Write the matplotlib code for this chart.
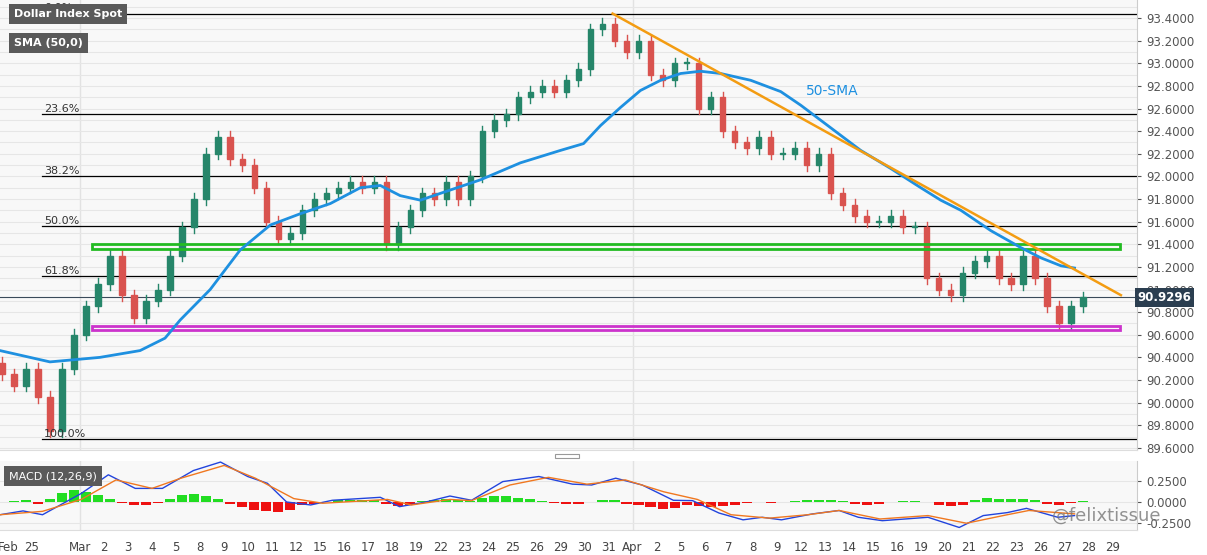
import matplotlib
matplotlib.use("Agg")
import matplotlib.pyplot as plt
import numpy as np
from matplotlib.patches import Rectangle

# half-day candles, starting at day index -0.25
closes = [90.25, 90.15, 90.3, 90.05, 89.75, 90.3, 90.6, 90.85, 91.05, 91.3,
          90.95, 90.75, 90.9, 91.0, 91.3, 91.55, 91.8, 92.2, 92.35, 92.15,
          92.1, 91.9, 91.6, 91.45, 91.5, 91.7, 91.8, 91.85, 91.9, 91.95,
          91.9, 91.95, 91.4, 91.55, 91.7, 91.85, 91.8, 91.95, 91.8, 92.0,
          92.4, 92.5, 92.55, 92.7, 92.75, 92.8, 92.75, 92.85, 92.95, 93.3,
          93.35, 93.2, 93.1, 93.2, 92.9, 92.85, 93.0, 93.0, 92.6, 92.7,
          92.4, 92.3, 92.25, 92.35, 92.2, 92.2, 92.25, 92.1, 92.2, 91.85,
          91.75, 91.65, 91.6, 91.6, 91.65, 91.55, 91.55, 91.1, 91.0, 90.95,
          91.15, 91.25, 91.3, 91.1, 91.05, 91.3, 91.1, 90.85, 90.7, 90.85, 90.93]
first_open = 90.35
wick = 0.05

sma_x = [-0.33, 1.75, 3.83, 5.5, 6.54, 7.17, 8.42, 9.67, 10.92, 12.17, 13.42, 14.67,
         15.5, 16.33, 17.17, 18.0, 19.67, 21.33, 23.0, 23.96, 24.67, 25.5, 26.33,
         27.17, 28.0, 28.83, 29.67, 30.92, 32.17, 33.0, 34.25, 35.5, 36.75, 38.0,
         38.83, 39.67, 40.92, 42.17, 43.0, 43.83, 44.4]
sma_y = [90.46, 90.36, 90.40, 90.46, 90.57, 90.73, 91.0, 91.35, 91.57, 91.67, 91.76,
         91.90, 91.92, 91.83, 91.79, 91.85, 91.97, 92.12, 92.23, 92.29, 92.45, 92.61,
         92.76, 92.85, 92.91, 92.93, 92.91, 92.85, 92.75, 92.63, 92.43, 92.23, 92.07,
         91.90, 91.79, 91.70, 91.52, 91.37, 91.28, 91.21, 91.19]

macd_x = [-0.33, 0.63, 1.44, 3.05, 4.18, 5.3, 6.43, 7.72, 8.85, 9.98, 10.8, 11.6, 12.6,
          13.5, 15.5, 16.3, 17.4, 18.4, 19.3, 20.6, 22.1, 23.5, 24.3, 25.3, 26.4, 27.7,
          28.5, 29.6, 30.6, 31.4, 32.2, 33.5, 34.6, 35.4, 36.4, 38.3, 39.6, 40.6, 41.6,
          42.4, 43.7, 44.4]
macd_y = [-0.15, -0.105, -0.15, 0.10, 0.32, 0.16, 0.16, 0.37, 0.47, 0.30, 0.22, 0.0,
          -0.035, 0.02, 0.055, -0.055, 0.0, 0.07, 0.02, 0.24, 0.30, 0.21, 0.20, 0.28,
          0.20, 0.02, 0.016, -0.13, -0.21, -0.18, -0.21, -0.14, -0.10, -0.18, -0.22,
          -0.18, -0.30, -0.16, -0.125, -0.075, -0.18, -0.16]
sig_x = [-0.33, 1.44, 3.05, 4.5, 6.0, 7.2, 9.0, 10.3, 11.9, 13.1, 15.8, 16.8, 18.4, 19.3,
         20.9, 22.5, 24.1, 25.7, 27.3, 28.7, 30.1, 31.7, 33.3, 34.6, 36.3, 38.3, 39.9,
         41.6, 42.5, 44.4]
sig_y = [-0.15, -0.11, 0.03, 0.26, 0.16, 0.28, 0.43, 0.28, 0.04, -0.015, 0.03, -0.035,
         0.03, 0.016, 0.20, 0.29, 0.21, 0.26, 0.12, 0.03, -0.15, -0.19, -0.15, -0.10,
         -0.20, -0.16, -0.25, -0.15, -0.10, -0.14]
hist = [0, 0.01, 0.02, -0.02, 0.03, 0.10, 0.14, 0.12, 0.08, 0.04, -0.01, -0.04, -0.03,
        -0.01, 0.04, 0.08, 0.09, 0.07, 0.04, -0.02, -0.06, -0.09, -0.11, -0.12, -0.10,
        -0.04, -0.02, 0.0, 0.02, 0.02, 0.025, 0.02, -0.02, -0.05, -0.03, 0.01, 0.02, 0.03,
        0.02, 0.01, 0.05, 0.07, 0.07, 0.05, 0.03, 0.01, -0.01, -0.02, -0.02, 0.0, 0.02,
        0.02, -0.02, -0.04, -0.06, -0.08, -0.07, -0.04, -0.05, -0.06, -0.05, -0.03, -0.01,
        0.0, -0.01, 0.0, 0.01, 0.02, 0.02, 0.02, 0.01, -0.02, -0.03, -0.025, 0.0, 0.01,
        0.01, 0.0, -0.03, -0.045, -0.03, 0.02, 0.05, 0.04, 0.03, 0.04, 0.02, -0.02, -0.03,
        -0.01, 0.01]

tick_pos = list(range(0, 47))
tick_pos.remove(2)
tick_labels = ["Feb", "25", "Mar", "2", "3", "4", "5", "8", "9", "10", "11", "12", "15",
               "16", "17", "18", "19", "22", "23", "24", "25", "26", "29", "30", "31",
               "Apr", "2", "5", "6", "7", "8", "9", "12", "13", "14", "15", "16", "19",
               "20", "21", "22", "23", "26", "27", "28", "29"]

fib_top, fib_bottom = 93.44, 89.68
fib_ratios = [0.0, 0.236, 0.382, 0.5, 0.618, 1.0]
green_zone = (91.36, 91.40)
magenta_zone = (90.64, 90.68)
trend_x = [25.17, 46.33]
trend_y = [93.44, 90.95]
last_price = 90.9296

BG = "#f8f8f8"
XMIN, XMAX = -0.33, 47.0
fig = plt.figure(figsize=(12.07, 5.55), dpi=100)
ax = fig.add_axes([0, 0.189, 0.942, 0.811])
mx = fig.add_axes([0, 0.045, 0.942, 0.124])

for a in (ax, mx):
    a.set_facecolor(BG)
    a.set_xlim(XMIN, XMAX)
    for s in ("top", "left"):
        a.spines[s].set_visible(False)
    a.spines["right"].set_color("#cccccc")
    a.spines["bottom"].set_color("#dddddd")
    a.yaxis.tick_right()
    a.tick_params(axis="y", labelsize=8.5, colors="#555555", length=3)
    for v in (3, 26):
        a.axvline(v, color="#e2e2e2", lw=1, zorder=0)

ax.set_ylim(89.58, 93.56)
ax.set_yticks(np.arange(89.6, 93.41, 0.2))
ax.set_yticklabels([f"{v:.4f}" for v in np.arange(89.6, 93.41, 0.2)])
for v in np.arange(89.6, 93.5, 0.1):
    ax.axhline(v, color="#e6e6e6", lw=0.8, zorder=0)
ax.set_xticks([])

# candles
opens = [first_open] + closes[:-1]
for k, (o, c) in enumerate(zip(opens, closes)):
    x = -0.25 + 0.5 * k
    col = "#26866a" if c >= o else "#d9534f"
    ax.plot([x, x], [min(o, c) - wick, max(o, c) + wick], color=col, lw=1, zorder=3)
    ax.add_patch(Rectangle((x - 0.11, min(o, c)), 0.22, max(abs(c - o), 0.01),
                           color=col, zorder=3))

# fibonacci
rng = fib_top - fib_bottom
for r in fib_ratios:
    lvl = fib_top - r * rng
    ax.plot([1.4, XMAX], [lvl, lvl], color="black", lw=0.9, zorder=2)
    ax.text(1.5, lvl + 0.02, f"{r * 100:.1f}%", fontsize=8, color="#333333", zorder=4)

for lo, hi, col in ((green_zone[0], green_zone[1], "#22bb22"),
                    (magenta_zone[0], magenta_zone[1], "#cc33cc")):
    ax.add_patch(Rectangle((3.5, lo), 42.8, hi - lo, fill=False, edgecolor=col, lw=2, zorder=4))

ax.axhline(last_price, color="#3a4a5a", lw=0.8, zorder=2)
ax.plot(sma_x, sma_y, color="#1e90e0", lw=2, zorder=5)
ax.plot(trend_x, trend_y, color="#f39c12", lw=1.8, zorder=5)
ax.text(33.2, 92.72, "50-SMA", color="#1e90e0", fontsize=10, zorder=6)

ax.text(1.0005, last_price, f"{last_price:.4f}", transform=ax.get_yaxis_transform(),
        fontsize=8.5, color="white", fontweight="bold", va="center", ha="left",
        bbox=dict(boxstyle="square,pad=0.25", fc="#2b3e50", ec="none"), zorder=10)

for y, label in ((0.97, "Dollar Index Spot"), (0.905, "SMA (50,0)")):
    ax.text(0.012, y, label, transform=ax.transAxes, fontsize=8, color="white",
            fontweight="bold", va="center",
            bbox=dict(boxstyle="square,pad=0.45", fc="#5a5a5a", ec="none"), zorder=10)

# MACD panel
mx.set_ylim(-0.33, 0.48)
mx.set_yticks([-0.25, 0, 0.25])
mx.set_yticklabels(["-0.2500", "0.0000", "0.2500"])
for v in (-0.25, 0, 0.25):
    mx.axhline(v, color="#e6e6e6", lw=0.8, zorder=0)
hx = [-0.25 + 0.5 * k for k in range(len(hist))]
mx.bar(hx, hist, width=0.42, color=["#22dd22" if h >= 0 else "#ee1111" for h in hist], zorder=2)
mx.plot(macd_x, macd_y, color="#2244dd", lw=1, zorder=3)
mx.plot(sig_x, sig_y, color="#f07820", lw=1, zorder=3)
mx.text(0.008, 0.78, "MACD (12,26,9)", transform=mx.transAxes, fontsize=8, color="white",
        va="center", bbox=dict(boxstyle="square,pad=0.45", fc="#5a5a5a", ec="none"), zorder=10)
fig.text(0.962, 0.07, "@felixtissue", fontsize=13, color="#777777",
         ha="right", va="center", alpha=0.8, zorder=10)
mx.set_xticks(tick_pos)
mx.set_xticklabels(tick_labels)
mx.tick_params(axis="x", labelsize=8.5, colors="#444444", length=0, pad=8)

fig.patches.append(Rectangle((0.46, 0.174), 0.02, 0.008, transform=fig.transFigure,
                             fill=False, edgecolor="#999999", lw=0.8))

fig.savefig("out.png", dpi=100, facecolor="white")
